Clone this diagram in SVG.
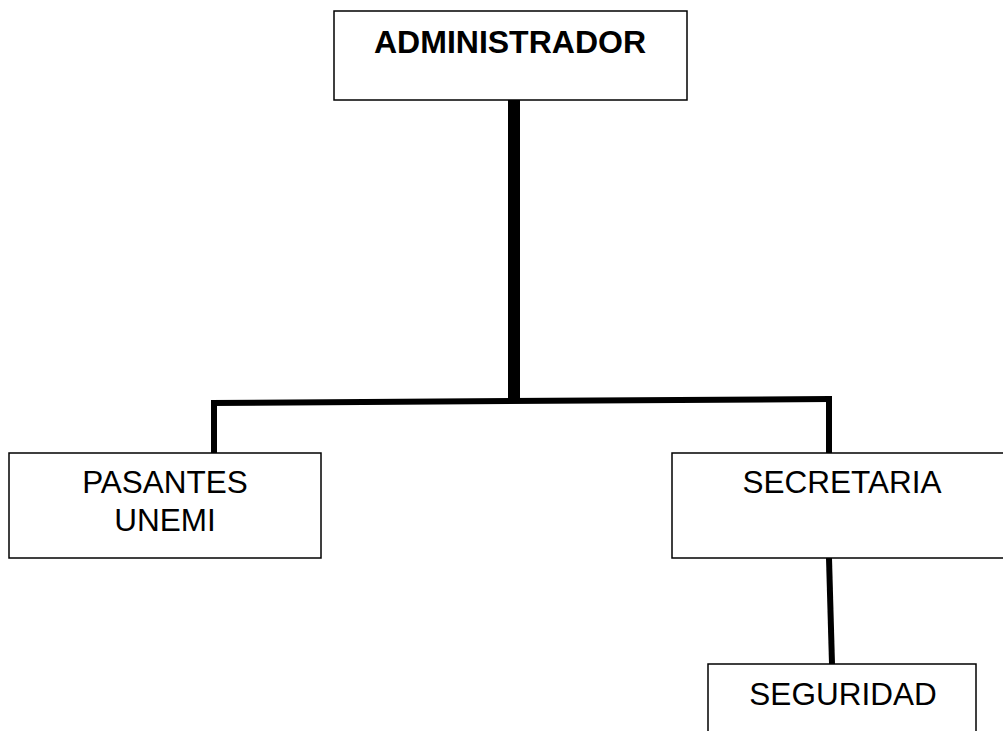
<svg xmlns="http://www.w3.org/2000/svg" width="1003" height="731" viewBox="0 0 1003 731">
<style>
.box{fill:#fff;stroke:#000;stroke-width:1.5}
.t{font-family:"Liberation Sans",Arial,sans-serif;font-size:31.5px;fill:#000;text-anchor:middle}
.b{font-weight:bold;font-size:32px}
.c{stroke:#000;fill:none}
</style>
<rect width="1003" height="731" fill="#fff"/>
<g id="connectors">
<line class="c" x1="514" y1="100" x2="514" y2="401" stroke-width="12"/>
<line class="c" x1="211" y1="403" x2="830" y2="399" stroke-width="6"/>
<line class="c" x1="214" y1="400" x2="214" y2="453" stroke-width="6"/>
<line class="c" x1="829" y1="396" x2="829" y2="453" stroke-width="6"/>
<line class="c" x1="829" y1="558" x2="832" y2="664" stroke-width="6"/>
</g>
<g id="administrador">
<rect class="box" x="334" y="11" width="353" height="89"/>
<text class="t b" x="510" y="53">ADMINISTRADOR</text>
</g>
<g id="pasantes">
<rect class="box" x="9" y="453" width="312" height="105"/>
<text class="t" x="165" y="493">PASANTES</text>
<text class="t" x="165" y="531">UNEMI</text>
</g>
<g id="secretaria">
<rect class="box" x="672" y="453" width="340" height="105"/>
<text class="t" x="842" y="493">SECRETARIA</text>
</g>
<g id="seguridad">
<rect class="box" x="708" y="664" width="268" height="80"/>
<text class="t" x="843" y="705">SEGURIDAD</text>
</g>
</svg>
